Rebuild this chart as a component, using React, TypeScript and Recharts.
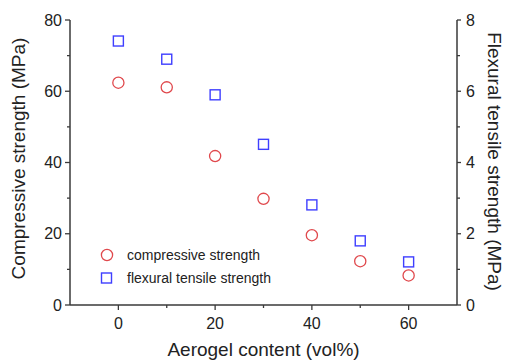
import React from "react";
import { ScatterChart, Scatter, XAxis, YAxis, Legend } from "recharts";

const aerogel = [0, 10, 20, 30, 40, 50, 60];
const compressive = [62.4, 61.1, 41.8, 29.8, 19.6, 12.3, 8.3];
const flexural = [7.41, 6.9, 5.9, 4.51, 2.81, 1.8, 1.21];
const xTicks = [0, 10, 20, 30, 40, 50, 60];
const leftTicks = [0, 10, 20, 30, 40, 50, 60, 70, 80];
const rightTicks = [0, 1, 2, 3, 4, 5, 6, 7, 8];

const compData = aerogel.map((x, i) => ({ x, y: compressive[i] }));
const flexData = aerogel.map((x, i) => ({ x, y: flexural[i] }));

const FONT = '"Liberation Sans", Arial, sans-serif';
const AXIS = "#3a3a3a";
const TXT = "#222";
const RED = "#e0484c";
const BLUE = "#3f3fff";

const XTick = (p: any) => {
  const v = p.payload.value;
  const major = v % 20 === 0;
  return (
    <g>
      <line x1={p.x} x2={p.x} y1={p.y} y2={p.y + (major ? 5 : 3)} stroke={AXIS} strokeWidth={1.3} />
      {major && (
        <text x={p.x} y={p.y + 18} dy="0.35em" textAnchor="middle" fontSize={16} fill={TXT} fontFamily={FONT}>
          {v}
        </text>
      )}
    </g>
  );
};

const LTick = (p: any) => {
  const v = p.payload.value;
  const major = v % 20 === 0;
  return (
    <g>
      <line x1={p.x - (major ? 5 : 3)} x2={p.x} y1={p.y} y2={p.y} stroke={AXIS} strokeWidth={1.3} />
      {major && (
        <text x={p.x - 8} y={p.y} dy="0.35em" textAnchor="end" fontSize={16} fill={TXT} fontFamily={FONT}>
          {v}
        </text>
      )}
    </g>
  );
};

const RTick = (p: any) => {
  const v = p.payload.value;
  const major = v % 2 === 0;
  return (
    <g>
      <line x1={p.x} x2={p.x + (major ? 4 : 3)} y1={p.y} y2={p.y} stroke={AXIS} strokeWidth={1.3} />
      {major && (
        <text x={p.x + 9} y={p.y} dy="0.35em" textAnchor="start" fontSize={16} fill={TXT} fontFamily={FONT}>
          {v}
        </text>
      )}
    </g>
  );
};

const CircleShape = (p: any) => (
  <circle cx={p.cx} cy={p.cy} r={5.6} fill="none" stroke={RED} strokeWidth={1.3} />
);
const SquareShape = (p: any) => (
  <rect x={p.cx - 5} y={p.cy - 5} width={10} height={10} fill="none" stroke={BLUE} strokeWidth={1.4} />
);

const LegendContent = () => (
  <div style={{ fontFamily: FONT, fontSize: 14, color: TXT }}>
    <div style={{ display: "flex", alignItems: "center", height: 23 }}>
      <svg width={18} height={18}>
        <circle cx={9} cy={9} r={5.6} fill="none" stroke={RED} strokeWidth={1.3} />
      </svg>
      <span style={{ marginLeft: 11 }}>compressive strength</span>
    </div>
    <div style={{ display: "flex", alignItems: "center", height: 23 }}>
      <svg width={18} height={18}>
        <rect x={3.5} y={4} width={10} height={10} fill="none" stroke={BLUE} strokeWidth={1.4} />
      </svg>
      <span style={{ marginLeft: 11 }}>flexural tensile strength</span>
    </div>
  </div>
);

const LeftTitle = (p: any) => {
  const vb = p.viewBox;
  const cx = vb.x + 18;
  const cy = vb.y + vb.height / 2 - 4;
  return (
    <text x={cx} y={cy} transform={`rotate(-90 ${cx} ${cy})`} textAnchor="middle" dy="0.35em" fontSize={19} fill={TXT} fontFamily={FONT}>
      Compressive strength (MPa)
    </text>
  );
};

const RightTitle = (p: any) => {
  const vb = p.viewBox;
  const cx = vb.x + 38;
  const cy = vb.y + vb.height / 2 - 1;
  return (
    <text x={cx} y={cy} transform={`rotate(90 ${cx} ${cy})`} textAnchor="middle" dy="0.35em" fontSize={19} fill={TXT} fontFamily={FONT}>
      Flexural tensile strength (MPa)
    </text>
  );
};

const BottomTitle = (p: any) => {
  const vb = p.viewBox;
  const cx = vb.x + vb.width / 2;
  const cy = vb.y + 44;
  return (
    <text x={cx} y={cy} textAnchor="middle" dy="0.35em" fontSize={19} fill={TXT} fontFamily={FONT}>
      Aerogel content (vol%)
    </text>
  );
};

export default function App() {
  return (
    <div style={{ position: "absolute", left: 0, top: 0, width: 507, height: 361, background: "#fff" }}>
      <ScatterChart width={507} height={361} margin={{ top: 20, right: 0, bottom: 0, left: 0 }}>
        <XAxis
          xAxisId="b"
          type="number"
          dataKey="x"
          domain={[-10, 70]}
          ticks={xTicks}
          tick={<XTick />}
          tickSize={0}
          tickMargin={0}
          tickLine={false}
          axisLine={{ stroke: AXIS, strokeWidth: 1.5 }}
          height={56}
          interval={0}
          label={<BottomTitle />}
        />
        <XAxis
          xAxisId="t"
          orientation="top"
          type="number"
          dataKey="x"
          domain={[-10, 70]}
          tick={false}
          tickLine={false}
          axisLine={{ stroke: AXIS, strokeWidth: 1.5 }}
          height={0}
        />
        <YAxis
          yAxisId="l"
          type="number"
          dataKey="y"
          domain={[0, 80]}
          ticks={leftTicks}
          tick={<LTick />}
          tickSize={0}
          tickMargin={0}
          tickLine={false}
          axisLine={{ stroke: AXIS, strokeWidth: 1.5 }}
          width={70}
          interval={0}
          label={<LeftTitle />}
        />
        <YAxis
          yAxisId="r"
          orientation="right"
          type="number"
          dataKey="y"
          domain={[0, 8]}
          ticks={rightTicks}
          tick={<RTick />}
          tickSize={0}
          tickMargin={0}
          tickLine={false}
          axisLine={{ stroke: AXIS, strokeWidth: 1.5 }}
          width={50}
          interval={0}
          label={<RightTitle />}
        />
        <Legend
          layout="vertical"
          align="center"
          verticalAlign="middle"
          content={<LegendContent />}
          wrapperStyle={{ left: 98, top: 243.5, width: 200 }}
        />
        <Scatter name="compressive strength" data={compData} xAxisId="b" yAxisId="l" shape={<CircleShape />} isAnimationActive={false} />
        <Scatter name="flexural tensile strength" data={flexData} xAxisId="b" yAxisId="r" shape={<SquareShape />} isAnimationActive={false} />
      </ScatterChart>
    </div>
  );
}
